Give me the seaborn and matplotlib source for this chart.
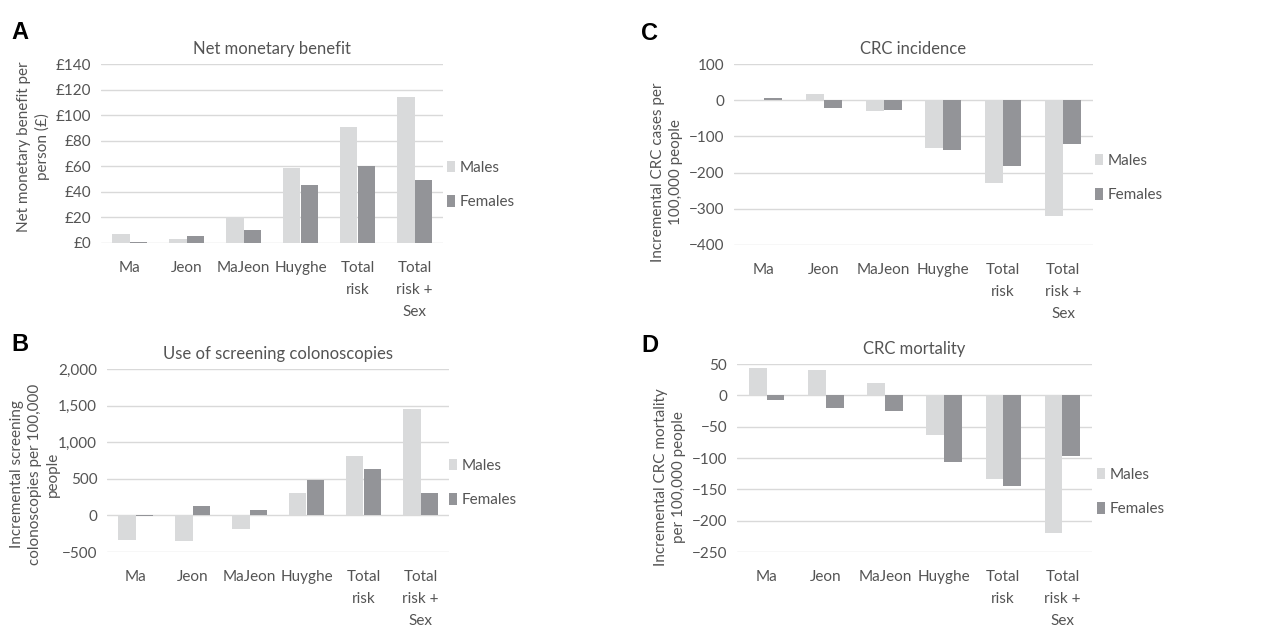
import pandas as pd
import matplotlib
matplotlib.use("Agg")
from matplotlib import pyplot as plt
from matplotlib.ticker import FuncFormatter, MultipleLocator
import seaborn as sns

# categories and series values
models = ["Ma", "Jeon", "MaJeon", "Huyghe", "Total\nrisk", "Total\nrisk +\nSex"]
sexes = ["Males", "Females"]

nmb_males = [7, 3.5, 20, 59, 91, 114.5]
nmb_females = [0.5, 5.5, 10, 45.5, 60, 49]

colo_males = [-340, -350, -180, 305, 815, 1450]
colo_females = [-15, 125, 80, 490, 635, 300]

inc_males = [-3, 17, -29, -131, -229, -321]
inc_females = [6, -21, -28, -137, -183, -122]

mort_males = [44, 41, 20, -64, -133, -219]
mort_females = [-7, -21, -25, -107, -144, -97]

W, H = 1270, 630
TEXT = "#545454"
GRID = "#d9d9d9"
FS = 11
palette = {"Males": "#d9dadb", "Females": "#939498"}

sns.set_style("white")
plt.rcParams["font.family"] = ["Lato", "DejaVu Sans"]
plt.rcParams["axes.unicode_minus"] = True

fig = plt.figure(figsize=(W / 100, H / 100), dpi=100)


def px_rect(left, top, right, bottom):
    return [left / W, 1 - bottom / H, (right - left) / W, (bottom - top) / H]


def fmt_pounds(v, _):
    return f"£{v:.0f}"


def fmt_plain(v, _):
    s = f"{abs(v):,.0f}"
    return ("\u2212" + s) if v < 0 else s


def draw_panel(rect, letter, letter_xy, males, females, title, ylabel,
               ylim, step, fmt, ylabel_xy, legend_xy):
    ax = fig.add_axes(px_rect(*rect))
    df = pd.DataFrame({
        "model": models * 2,
        "sex": [sexes[0]] * len(models) + [sexes[1]] * len(models),
        "value": males + females,
    })
    sns.barplot(data=df, x="model", y="value", hue="sex", palette=palette,
                width=0.6, saturation=1, errorbar=None, linewidth=0, ax=ax)

    ax.set_ylim(*ylim)
    ax.set_xlim(-0.5, len(models) - 0.5)
    ax.yaxis.set_major_locator(MultipleLocator(step))
    ax.yaxis.set_major_formatter(FuncFormatter(fmt))
    ax.yaxis.grid(True, color=GRID, linewidth=1.0)
    ax.set_axisbelow(True)
    for sp in ax.spines.values():
        sp.set_visible(False)
    ax.tick_params(length=0, labelsize=FS, labelcolor=TEXT)
    ax.tick_params(axis="y", pad=7)
    ax.tick_params(axis="x", pad=13)
    for t in ax.get_xticklabels():
        t.set_linespacing(1.72)

    ax.set_xlabel("")
    ax.set_title(title, fontsize=12, color=TEXT, pad=7)
    ax.set_ylabel(ylabel, fontsize=FS, color=TEXT, linespacing=1.35)
    ax.yaxis.set_label_coords(ylabel_xy[0] / W, 1 - ylabel_xy[1] / H,
                              transform=fig.transFigure)

    handles, labels = ax.get_legend_handles_labels()
    ax.legend(handles, labels, loc="center left",
              bbox_to_anchor=(legend_xy[0] / W, 1 - legend_xy[1] / H),
              bbox_transform=fig.transFigure, frameon=False,
              borderpad=0, borderaxespad=0, handlelength=0.55,
              handleheight=0.75, handletextpad=0.3, labelspacing=1.35,
              labelcolor=TEXT, fontsize=FS)

    fig.text(letter_xy[0] / W, 1 - letter_xy[1] / H, letter,
             fontsize=17, fontweight="bold", family="Liberation Sans",
             color="black", va="baseline", ha="left")
    return ax


draw_panel((101, 64, 443, 243), "A", (11, 39), nmb_males, nmb_females,
           "Net monetary benefit", "Net monetary benefit per\nperson (£)",
           (0, 140), 20, fmt_pounds, (50, 147), (447, 185))

draw_panel((107, 369, 449, 552), "B", (11, 351), colo_males, colo_females,
           "Use of screening colonoscopies",
           "Incremental screening\ncolonoscopies per 100,000\npeople",
           (-500, 2000), 500, fmt_plain, (60, 474), (449, 483))

draw_panel((734, 64, 1093, 245), "C", (641, 40), inc_males, inc_females,
           "CRC incidence", "Incremental CRC cases per\n100,000 people",
           (-400, 100), 100, fmt_plain, (683, 172), (1095, 178))

draw_panel((737, 364, 1092, 552), "D", (641, 352), mort_males, mort_females,
           "CRC mortality", "Incremental CRC mortality\nper 100,000 people",
           (-250, 50), 50, fmt_plain, (686, 477), (1097, 492))

fig.savefig("out.png", dpi=100)
